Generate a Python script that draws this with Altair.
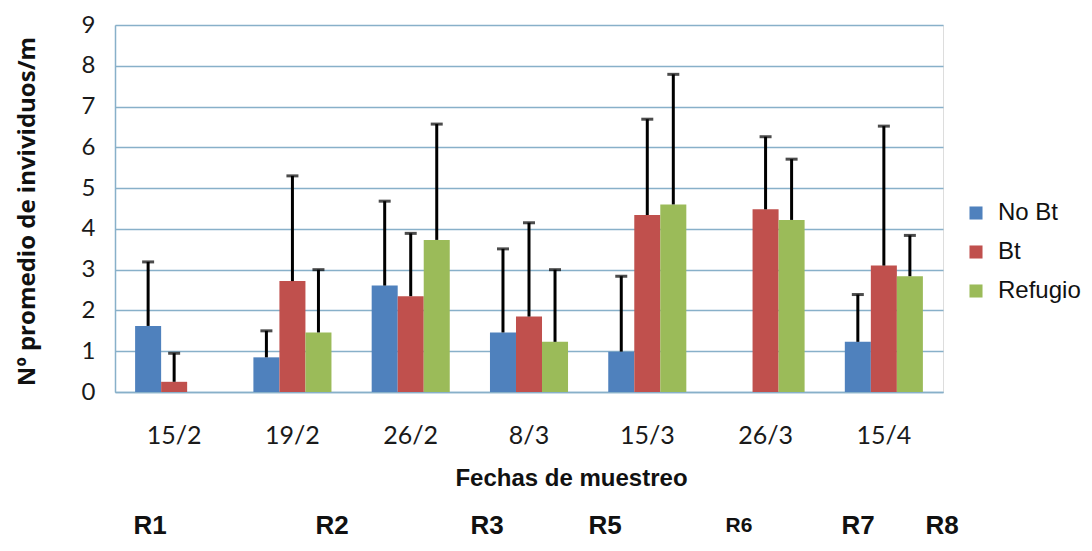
import altair as alt
import pandas as pd

# ---- data ----
fechas = ["15/2", "19/2", "26/2", "8/3", "15/3", "26/3", "15/4"]
series = ["No Bt", "Bt", "Refugio"]
colores = ["#4f81bd", "#c0504d", "#9bbb59"]

no_bt = [1.62, 0.85, 2.61, 1.46, 0.99, None, 1.23]
no_bt_err = [1.57, 0.65, 2.07, 2.05, 1.85, None, 1.16]
bt = [0.25, 2.72, 2.35, 1.85, 4.34, 4.48, 3.10]
bt_err = [0.70, 2.58, 1.54, 2.30, 2.35, 1.78, 3.42]
refugio = [None, 1.46, 3.73, 1.23, 4.60, 4.22, 2.84]
refugio_err = [None, 1.54, 2.84, 1.77, 3.19, 1.49, 1.00]

r_labels = ["R1", "R2", "R3", "R5", "R6", "R7", "R8"]

# ---- layout (not data) ----
r_px = [35, 217, 372, 490, 624, 743, 827]
r_fs = [26, 26, 26, 26, 21, 26, 26]

rows = []
for s, vals, errs in [("No Bt", no_bt, no_bt_err), ("Bt", bt, bt_err), ("Refugio", refugio, refugio_err)]:
    for f, v, e in zip(fechas, vals, errs):
        if v is None:
            continue
        rows.append({"fecha": f, "serie": s, "valor": v, "sup": v + e})
df = pd.DataFrame(rows)

grid_col = "#88b0c9"
arial = "Liberation Sans, Arial, sans-serif"
ytitle = "Nº promedio de invividuos/m"

xenc = alt.X(
    "fecha:N", sort=fechas,
    scale=alt.Scale(paddingInner=0.34, paddingOuter=0.17),
    axis=alt.Axis(
        title="Fechas de muestreo", labelAngle=0, ticks=False,
        labelFont="Lato", labelFontSize=25, labelColor="#1a1a1a", labelPadding=31,
        domainColor=grid_col, domainWidth=1.5,
        titleFont=arial, titleFontSize=24, titleFontWeight="bold", titleColor="#111",
        titleX=456, titleY=86, titleBaseline="middle", titleAlign="center",
    ),
)
xoff = alt.XOffset("serie:N", sort=series, scale=alt.Scale(domain=series, paddingInner=0, paddingOuter=0))

base = alt.Chart(df).encode(x=xenc, xOffset=xoff)

bars = base.mark_bar().encode(
    y=alt.Y(
        "valor:Q", title=ytitle,
        scale=alt.Scale(domain=[0, 9], nice=False),
        axis=alt.Axis(
            values=list(range(10)), ticks=False, labelPadding=20,
            labelFont="Lato", labelFontSize=24, labelColor="#1a1a1a",
            gridColor=grid_col, gridWidth=1.4, domainColor=grid_col, domainWidth=1.5,
            titleFont="Open Sans", titleFontSize=24, titleFontWeight="bold", titleColor="#111",
            titleX=-88, titleY=186, titleAngle=-90, titleAlign="center", titleBaseline="middle",
        ),
    ),
    color=alt.Color(
        "serie:N", sort=series,
        scale=alt.Scale(domain=series, range=colores),
        legend=alt.Legend(
            title=None, orient="none", legendX=849, legendY=176,
            symbolType="square", symbolSize=170, symbolStrokeWidth=0,
            labelFont=arial, labelFontSize=24, labelColor="#111",
            labelOffset=10, rowPadding=15,
        ),
    ),
)

rules = base.mark_rule(color="black", strokeWidth=3).encode(
    y=alt.Y("valor:Q", title=ytitle), y2="sup:Q"
)
caps = base.mark_tick(color="black", thickness=3, size=12).encode(
    y=alt.Y("sup:Q", title=ytitle)
)

r_layers = []
for lab, px, fs in zip(r_labels, r_px, r_fs):
    r_layers.append(
        alt.Chart(pd.DataFrame({"label": [lab]})).mark_text(
            font=arial, fontWeight="bold", baseline="middle", align="center",
            x=px, y=501, fontSize=fs, color="#111",
        ).encode(text="label:N")
    )

chart = alt.layer(bars, rules, caps, *r_layers).properties(
    width=828, height=367,
    autosize=alt.AutoSizeParams(type="none"),
    padding={"left": 107, "top": 17, "right": 141, "bottom": 151},
).configure_view(stroke=None).configure(background="white")

chart.save("out.html", embed_options={"renderer": "svg", "actions": False})
